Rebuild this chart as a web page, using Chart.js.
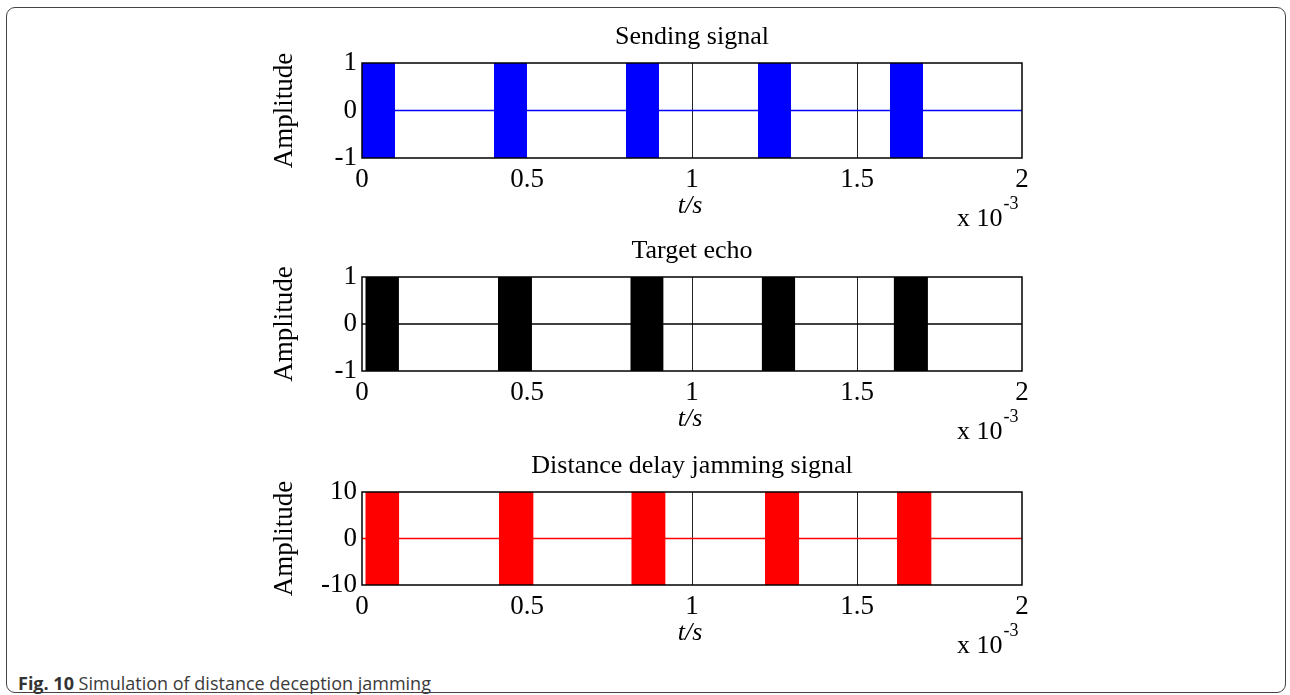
<!DOCTYPE html>
<html>
<head>
<meta charset="utf-8">
<script src="https://cdn.jsdelivr.net/npm/chart.js@4/dist/chart.umd.min.js"></script>
<style>
body { margin: 0; background: #fff; width: 1290px; height: 695px; overflow: hidden; position: relative; }
#frame { position: absolute; left: 6px; top: 7px; width: 1280px; height: 686px; border: 1.5px solid #444; border-radius: 9px; box-sizing: border-box; }
.plot { position: absolute; left: 0; }
#caption { position: absolute; left: 18px; top: 671px; font: 18px "Open Sans"; color: #3a3a3a; white-space: nowrap; }
#caption b { color: #333; }
</style>
</head>
<body>
<div id="frame"></div>
<canvas id="c_send" class="plot" width="1290" height="230"></canvas>
<canvas id="c_echo" class="plot" width="1290" height="230"></canvas>
<canvas id="c_jam" class="plot" width="1290" height="230"></canvas>
<div id="caption"><b>Fig. 10</b> Simulation of distance deception jamming</div>

<script>
'use strict';

/******************************************************************************************
DATA
******************************************************************************************/

// time axis, in units of 10^-3 s
var xTicks = [0, 0.5, 1, 1.5, 2];
var markedT = [1, 1.5];                       // thin vertical lines visible in the figure

// pulse start / end times
var sendStart = [0, 0.4, 0.8, 1.2, 1.6];
var sendEnd   = [0.1, 0.5, 0.9, 1.3, 1.7];
var echoStart = [0.010, 0.412, 0.813, 1.211, 1.611];
var echoEnd   = [0.112, 0.515, 0.914, 1.313, 1.715];
var jamStart  = [0.010, 0.415, 0.816, 1.221, 1.621];
var jamEnd    = [0.113, 0.520, 0.920, 1.325, 1.726];

// amplitude ticks
var sendTicks = [-1, 0, 1];
var echoTicks = [-1, 0, 1];
var jamTicks  = [-10, 0, 10];


/******************************************************************************************
LAYOUT
******************************************************************************************/

var PLOT_LEFT = 362, PLOT_RIGHT = 1022, PAD_TOP = 63, AXIS_H = 73;
var SERIF = '"Liberation Serif", "Times New Roman", serif';


/******************************************************************************************
PLOTS
******************************************************************************************/

// text around each panel: title, y label, x label and the x 10^-3 factor
var panelText = {
    id: 'panelText',
    afterDraw: function(chart) {
        var ctx = chart.ctx, a = chart.chartArea;
        var o = chart.options.plugins.panelText;
        ctx.save();

        // axes box
        ctx.strokeStyle = '#000';
        ctx.lineWidth = 1.5;
        ctx.strokeRect(a.left, a.top, a.right - a.left, a.bottom - a.top);

        ctx.fillStyle = '#000';
        ctx.font = '26px ' + SERIF;
        ctx.textAlign = 'center';
        ctx.textBaseline = 'alphabetic';
        ctx.fillText(o.title, (a.left + a.right) / 2, a.top - 19);

        ctx.font = 'italic 26px ' + SERIF;
        ctx.fillText('t/s', 690, a.bottom + 55);

        ctx.font = '26px ' + SERIF;
        ctx.textAlign = 'left';
        ctx.fillText('x 10', 957, a.bottom + 68);
        var w = ctx.measureText('x 10').width;
        ctx.font = '18px ' + SERIF;
        ctx.fillText('-3', 957 + w + 1, a.bottom + 51);

        ctx.translate(292, (a.top + a.bottom) / 2);
        ctx.rotate(-Math.PI / 2);
        ctx.font = '27px ' + SERIF;
        ctx.textAlign = 'center';
        ctx.fillText('Amplitude', 0, 0);
        ctx.restore();
    }
};

function draw_panel(canvasId, top, height, title, starts, ends, yTicks, color) {
    var canvas = document.getElementById(canvasId);
    canvas.style.top = (top - PAD_TOP) + 'px';
    canvas.height = PAD_TOP + height + AXIS_H;

    var yMin = yTicks[0], yMax = yTicks[yTicks.length - 1];

    // every pulse is a band filled between the top and the bottom of the axis
    var datasets = [];
    for (var i = 0; i < starts.length; i++) {
        datasets.push({
            data: [{ x: starts[i], y: yMax }, { x: ends[i], y: yMax }],
            borderWidth: 0,
            borderColor: color,
            backgroundColor: color,
            pointRadius: 0,
            fill: { value: yMin }
        });
    }
    // carrier level between pulses
    datasets.push({
        data: [{ x: xTicks[0], y: 0 }, { x: xTicks[xTicks.length - 1], y: 0 }],
        borderWidth: 1.5,
        borderColor: color,
        pointRadius: 0,
        fill: false
    });

    return new Chart(canvas.getContext('2d'), {
        type: 'line',
        data: { datasets: datasets },
        options: {
            responsive: false,
            animation: false,
            layout: { padding: { top: PAD_TOP, right: 1290 - PLOT_RIGHT, left: 0, bottom: 0 } },
            plugins: {
                legend: { display: false },
                tooltip: { enabled: false },
                panelText: { title: title }
            },
            scales: {
                x: {
                    type: 'linear',
                    min: xTicks[0],
                    max: xTicks[xTicks.length - 1],
                    afterBuildTicks: function(scale) {
                        scale.ticks = xTicks.map(function(v) { return { value: v }; });
                    },
                    afterFit: function(scale) { scale.height = AXIS_H; },
                    border: { display: false },
                    grid: {
                        drawTicks: false,
                        lineWidth: 1,
                        color: function(c) {
                            return markedT.indexOf(c.tick.value) >= 0 ? '#222' : 'rgba(0,0,0,0)';
                        }
                    },
                    ticks: {
                        color: '#000',
                        padding: 6,
                        maxRotation: 0,
                        font: { family: SERIF, size: 27 },
                        callback: function(v) { return String(v); }
                    }
                },
                y: {
                    min: yMin,
                    max: yMax,
                    afterBuildTicks: function(scale) {
                        scale.ticks = yTicks.map(function(v) { return { value: v }; });
                    },
                    afterFit: function(scale) { scale.width = PLOT_LEFT; },
                    border: { display: false },
                    grid: { display: false },
                    ticks: {
                        color: '#000',
                        padding: -3,
                        font: { family: SERIF, size: 27 },
                        callback: function(v) { return String(v); }
                    }
                }
            }
        },
        plugins: [panelText]
    });
}

draw_panel('c_send', 63, 95, 'Sending signal', sendStart, sendEnd, sendTicks, '#0000ff');
draw_panel('c_echo', 277, 94, 'Target echo', echoStart, echoEnd, echoTicks, '#000000');
draw_panel('c_jam', 492, 93, 'Distance delay jamming signal', jamStart, jamEnd, jamTicks, '#ff0000');
</script>
</body>
</html>
